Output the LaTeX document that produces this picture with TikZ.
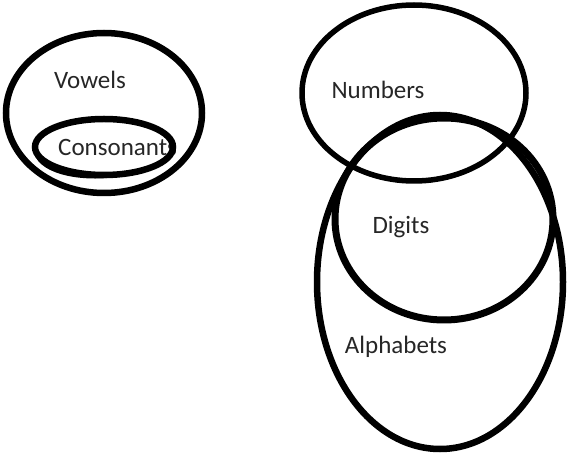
\documentclass[tikz,border=0pt]{standalone}
\usepackage{fontspec}
\setmainfont{Carlito}
\begin{document}
\begin{tikzpicture}[x=1pt,y=-1pt,
  ring/.style={draw=black,line width=6.5pt},
  lbl/.style={inner sep=0pt,font=\fontsize{25}{30}\selectfont,text=black!85}]
\useasboundingbox (0,0) rectangle (568,454);
% labels
\node[lbl] (vow) at (90,80) {Vowels};
\node[lbl,anchor=west] (con) at (58,147) {Consonants};
\node[lbl] (num) at (378,90) {Numbers};
\node[lbl] (dig) at (401,227) {Digits};
\node[lbl] (alp) at (396,347) {Alphabets};
% sets
\draw[ring] (104,113) ellipse [x radius=98, y radius=80];
\draw[ring] (104,147) ellipse [x radius=69, y radius=28];
\coordinate (c1) at (36,144);
\coordinate (c2) at (110,176);
\draw[ring,line width=3.5pt,line cap=round] (c1) .. controls (30,168) and (70,180) .. (c2);
\draw[ring,line width=5.5pt] (414,93) ellipse [x radius=112, y radius=88];
\draw[ring,line width=7pt] (444,219) ellipse [x radius=109, y radius=101];
\draw[ring] (440,282) ellipse [x radius=123, y radius=167];
\end{tikzpicture}
\end{document}
